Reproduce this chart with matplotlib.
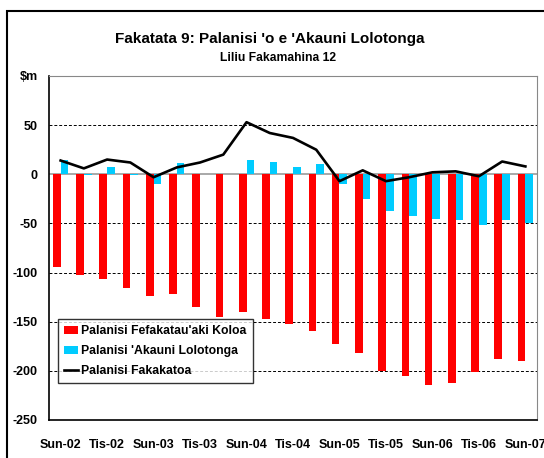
import numpy as np
import matplotlib
matplotlib.use("Agg")
import matplotlib.pyplot as plt
from matplotlib.patches import Rectangle

plt.rcParams['font.family'] = ['Liberation Sans', 'DejaVu Sans']
plt.rcParams['font.weight'] = 'bold'

# quarterly periods, every second one labelled
labels = ['Sun-02', '', 'Tis-02', '', 'Sun-03', '', 'Tis-03', '', 'Sun-04', '', 'Tis-04', '',
          'Sun-05', '', 'Tis-05', '', 'Sun-06', '', 'Tis-06', '', 'Sun-07']
trade = [-94, -102, -107, -116, -124, -122, -135, -145, -140, -147, -152,
         -159, -173, -182, -200, -205, -214, -212, -201, -188, -190]
current = [15, -1, 7, -1, -10, 11, 0, 0, 15, 13, 7,
           10, -10, -25, -37, -42, -46, -47, -52, -47, -50]
overall = [14, 6, 15, 12, -3, 7, 12, 20, 53, 42, 37,
           25, -7, 4, -7, -3, 2, 3, -2, 13, 8]

x = np.arange(len(labels))

fig = plt.figure(figsize=(5.44, 4.58), dpi=100)
# outer chart frame
fig.patches.append(Rectangle((7 / 544, -0.05), 1.0, 1 - 11 / 458 + 0.05,
                             transform=fig.transFigure, fill=False,
                             edgecolor='black', linewidth=1.5))

ax = fig.add_axes([49 / 544, 38 / 458, 488 / 544, 344 / 458])

w = 0.33
b1 = ax.bar(x - w / 2, trade, width=w, color='#ff0000', zorder=3)
b2 = ax.bar(x + w / 2, current, width=w, color='#00ccff', zorder=3)
l1, = ax.plot(x, overall, color='black', linewidth=1.9, zorder=4)

ax.axhline(0, color='#999999', linewidth=1.2, zorder=2)
for v in [50, -50, -100, -150, -200]:
    ax.axhline(v, color='black', linewidth=0.7, linestyle=(0, (3, 2)), zorder=1)

ax.set_xlim(-0.5, len(labels) - 0.5)
ax.set_ylim(-250, 100)
ax.set_yticks([100, 50, 0, -50, -100, -150, -200, -250])
ax.set_yticklabels(['$m', '50', '0', '-50', '-100', '-150', '-200', '-250'])
ax.set_xticks(x)
ax.set_xticklabels(labels)
ax.tick_params(axis='both', length=0, labelsize=9)
ax.tick_params(axis='x', pad=14)
ax.tick_params(axis='y', pad=8)

for s in ['top', 'right']:
    ax.spines[s].set_color('#888888')
    ax.spines[s].set_linewidth(0.8)
for s in ['left', 'bottom']:
    ax.spines[s].set_color('black')
    ax.spines[s].set_linewidth(1.2)

fig.text(270 / 544, 1 - 39 / 458, "Fakatata 9: Palanisi 'o e 'Akauni Lolotonga",
         ha='center', va='center', fontsize=11, fontweight='bold')
fig.text(278 / 544, 1 - 58 / 458, 'Liliu Fakamahina 12',
         ha='center', va='center', fontsize=8.7, fontweight='bold')

leg = ax.legend([b1, b2, l1],
                ["Palanisi Fefakatau'aki Koloa", "Palanisi 'Akauni Lolotonga", 'Palanisi Fakakatoa'],
                loc='upper left', bbox_to_anchor=(9 / 488, (420 - 319) / 344),
                frameon=True, fancybox=False, fontsize=8.8, borderpad=0.5,
                handlelength=1.1, handletextpad=0.3, labelspacing=0.65, borderaxespad=0)
leg.get_frame().set_edgecolor('black')
leg.get_frame().set_linewidth(1.0)

fig.savefig('out.png', dpi=100)
